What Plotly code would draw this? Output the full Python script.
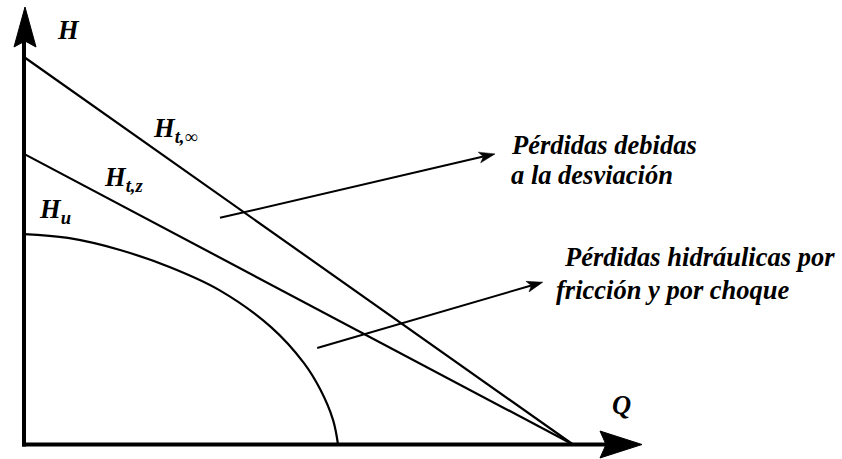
import math
import plotly.graph_objects as go

# ---------------- data (chart units) ----------------
Q_lines = [0, 10]
H_t_inf = [10, 0]        # H_t,infinity  (ideal Euler head)
H_t_z = [7.5, 0]         # H_t,z  (finite number of blades)
Q_u = [0, 0.8, 1.75, 2.65, 3.55, 4.5, 5.1, 5.4, 5.63, 5.72]
H_u = [5.43, 5.33, 5.02, 4.58, 3.99, 3.03, 2.10, 1.41, 0.63, 0]

# pointer arrows (tail -> tip), chart units
ptr1_tail, ptr1_tip = (3.57, 5.85), (8.58, 7.50)
ptr2_tail, ptr2_tip = (5.34, 2.49), (9.45, 4.19)

# ---------------- layout geometry ----------------
W, Hpx = 842, 459
X0PX, Y0PX = 24, 444.5          # origin in pixels
KX, KY = 54.9, 38.75            # pixels per unit

def ux(px):
    return (px - X0PX) / KX

def uy(py):
    return (Y0PX - py) / KY

def to_px(q, h):
    return X0PX + q * KX, Y0PX - h * KY

xr = [ux(0), ux(W)]
yr = [uy(Hpx), uy(0)]

fig = go.Figure()
LW = 2.2
fig.add_trace(go.Scatter(x=Q_lines, y=H_t_inf, mode="lines",
                         line=dict(color="black", width=LW), hoverinfo="skip"))
fig.add_trace(go.Scatter(x=Q_lines, y=H_t_z, mode="lines",
                         line=dict(color="black", width=LW), hoverinfo="skip"))
fig.add_trace(go.Scatter(x=Q_u, y=H_u, mode="lines",
                         line=dict(color="black", width=LW, shape="spline", smoothing=1.0),
                         hoverinfo="skip"))

# axes lines
AW = 4
fig.add_shape(type="line", x0=ux(X0PX - 2), y0=0, x1=ux(606), y1=0,
              line=dict(color="black", width=AW))
fig.add_shape(type="line", x0=0, y0=uy(Y0PX + 2), x1=0, y1=uy(40),
              line=dict(color="black", width=AW))

# axis arrowheads
tipx, basex, notchx, hw = ux(642), ux(600), ux(606), 13.5 / KY
fig.add_shape(type="path",
              path=f"M {tipx},0 L {basex},{hw} L {notchx},0 L {basex},{-hw} Z",
              fillcolor="black", line=dict(color="black", width=1))
tipy, basey, notchy, hwx = uy(7), uy(47), uy(41), 11 / KX
cx = ux(25)
fig.add_shape(type="path",
              path=f"M {cx},{tipy} L {cx + hwx},{basey} L {cx},{notchy} L {cx - hwx},{basey} Z",
              fillcolor="black", line=dict(color="black", width=1))

# pointer arrows with filled stealth heads
HEAD_L, HEAD_HW, NOTCH = 16, 5.5, 4
for tail, tip in [(ptr1_tail, ptr1_tip), (ptr2_tail, ptr2_tip)]:
    tx, ty = to_px(*tail)
    px, py = to_px(*tip)
    L = math.hypot(px - tx, py - ty)
    dx, dy = (px - tx) / L, (py - ty) / L
    nx, ny = -dy, dx
    bx, by = px - HEAD_L * dx, py - HEAD_L * dy
    kx, ky = px - (HEAD_L - NOTCH) * dx, py - (HEAD_L - NOTCH) * dy
    c1 = (bx + HEAD_HW * nx, by + HEAD_HW * ny)
    c2 = (bx - HEAD_HW * nx, by - HEAD_HW * ny)
    fig.add_shape(type="line", x0=tail[0], y0=tail[1], x1=ux(kx), y1=uy(ky),
                  line=dict(color="black", width=2))
    fig.add_shape(type="path",
                  path=(f"M {ux(px)},{uy(py)} L {ux(c1[0])},{uy(c1[1])} "
                        f"L {ux(kx)},{uy(ky)} L {ux(c2[0])},{uy(c2[1])} Z"),
                  fillcolor="black", line=dict(color="black", width=0.5))

FONT = "Liberation Serif"
FS = 26.5

def label(text, px, py, anchor="left", size=FS):
    fig.add_annotation(x=px / W, y=1 - py / Hpx, xref="paper", yref="paper",
                       text="<b><i>" + text + "</i></b>", showarrow=False,
                       xanchor=anchor, yanchor="middle",
                       font=dict(family=FONT, size=size, color="black"))

label("H", 68, 30, "center")
label("Q", 621, 405, "center")
label("H<sub>t,∞</sub>", 151, 130)
label("H<sub>t,z</sub>", 102, 179)
label("H<sub>u</sub>", 37, 211)
label("Pérdidas debidas", 509, 145)
label("a la desviación", 509, 175)
label("Pérdidas hidráulicas por", 562, 257)
label("fricción y por choque", 554, 290)

fig.update_layout(width=W, height=Hpx, margin=dict(l=0, r=0, t=0, b=0),
                  paper_bgcolor="white", plot_bgcolor="white", showlegend=False,
                  font=dict(family=FONT),
                  xaxis=dict(range=xr, visible=False, fixedrange=True),
                  yaxis=dict(range=yr, visible=False, fixedrange=True))

fig.write_html("out.html", config={"displayModeBar": False},
               post_script="document.body.style.margin='0';")
